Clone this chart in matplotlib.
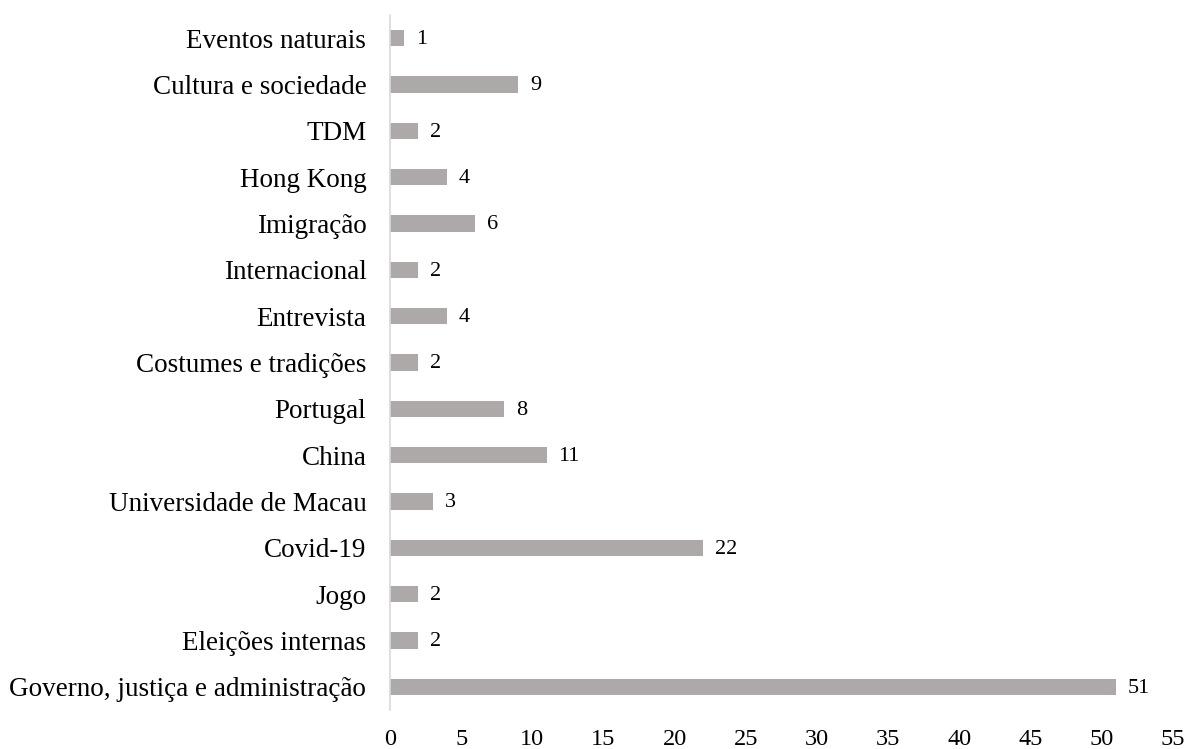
import matplotlib.pyplot as plt

plt.rcParams['font.family'] = ['Liberation Serif', 'DejaVu Serif']

categorias = [
    "Governo, justiça e administração",
    "Eleições internas",
    "Jogo",
    "Covid-19",
    "Universidade de Macau",
    "China",
    "Portugal",
    "Costumes e tradições",
    "Entrevista",
    "Internacional",
    "Imigração",
    "Hong Kong",
    "TDM",
    "Cultura e sociedade",
    "Eventos naturais",
]
valores = [51, 2, 2, 22, 3, 11, 8, 2, 4, 2, 6, 4, 2, 9, 1]
ticks_x = list(range(0, 56, 5))

fig = plt.figure(figsize=(11.86, 7.49), dpi=100)
ax = fig.add_axes([0.3288, 0.052, 0.6602, 0.928])

pos = range(len(categorias))
ax.barh(pos, valores, height=0.35, color="#ada9a9")
for y, v in zip(pos, valores):
    ax.annotate(str(v), (v, y), xytext=(8.5, -1), textcoords="offset points",
                va="center", ha="left", fontsize=16)

ax.set_yticks(list(pos))
ax.set_yticklabels(categorias, fontsize=19.5)
ax.set_xticks(ticks_x)
ax.set_xticklabels([str(t) for t in ticks_x], fontsize=17.5)
ax.set_xlim(0, 55)
ax.set_ylim(-0.5, len(categorias) - 0.5)
ax.tick_params(length=0)
ax.tick_params(axis="y", pad=17)
ax.tick_params(axis="x", pad=14)
for s in ["top", "right", "bottom"]:
    ax.spines[s].set_visible(False)
ax.spines["left"].set_color("#d9d9d9")
ax.spines["left"].set_linewidth(1.2)

fig.savefig("out.png", dpi=100)
